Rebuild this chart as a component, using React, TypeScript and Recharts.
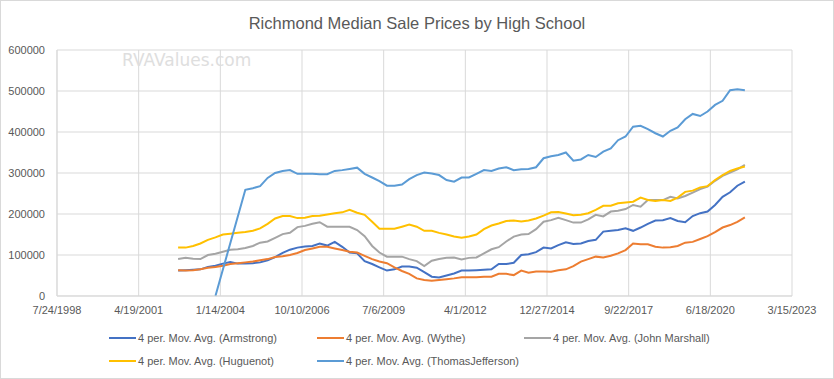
import { CartesianGrid, Line, LineChart, XAxis, YAxis } from "recharts";

// quarterly points (mid-quarter), 4-period moving averages
const quarterDates = [
  "2002-08-15", "2002-11-15",
  "2003-02-15", "2003-05-15", "2003-08-15", "2003-11-15",
  "2004-02-15", "2004-05-15", "2004-08-15", "2004-11-15",
  "2005-02-15", "2005-05-15", "2005-08-15", "2005-11-15",
  "2006-02-15", "2006-05-15", "2006-08-15", "2006-11-15",
  "2007-02-15", "2007-05-15", "2007-08-15", "2007-11-15",
  "2008-02-15", "2008-05-15", "2008-08-15", "2008-11-15",
  "2009-02-15", "2009-05-15", "2009-08-15", "2009-11-15",
  "2010-02-15", "2010-05-15", "2010-08-15", "2010-11-15",
  "2011-02-15", "2011-05-15", "2011-08-15", "2011-11-15",
  "2012-02-15", "2012-05-15", "2012-08-15", "2012-11-15",
  "2013-02-15", "2013-05-15", "2013-08-15", "2013-11-15",
  "2014-02-15", "2014-05-15", "2014-08-15", "2014-11-15",
  "2015-02-15", "2015-05-15", "2015-08-15", "2015-11-15",
  "2016-02-15", "2016-05-15", "2016-08-15", "2016-11-15",
  "2017-02-15", "2017-05-15", "2017-08-15", "2017-11-15",
  "2018-02-15", "2018-05-15", "2018-08-15", "2018-11-15",
  "2019-02-15", "2019-05-15", "2019-08-15", "2019-11-15",
  "2020-02-15", "2020-05-15", "2020-08-15", "2020-11-15",
  "2021-02-15", "2021-05-15", "2021-08-15",
];

const armstrong = [
  62000, 63000, 64000, 65000, 71000, 74000, 79000, 83000, 79000, 79000,
  80000, 82000, 87000, 95000, 105000, 113000, 118000, 121000, 122000, 128000,
  123000, 132000, 120000, 106000, 104000, 85000, 78000, 70000, 62000, 65000,
  72000, 72000, 69000, 58000, 47000, 45000, 50000, 55000, 62000, 62000,
  63000, 64000, 65000, 78000, 78000, 81000, 100000, 102000, 107000, 118000,
  116000, 124000, 131000, 127000, 128000, 134000, 137000, 157000, 159000, 161000,
  165000, 159000, 167000, 176000, 184000, 185000, 190000, 183000, 180000, 195000,
  202000, 206000, 222000, 242000, 253000, 269000, 279000,
];

const wythe = [
  63000, 62000, 63000, 65000, 69000, 71000, 74000, 78000, 80000, 82000,
  84000, 87000, 90000, 95000, 97000, 100000, 105000, 112000, 116000, 120000,
  120000, 116000, 112000, 108000, 106000, 98000, 90000, 84000, 80000, 70000,
  61000, 54000, 43000, 39000, 37000, 39000, 41000, 43000, 46000, 46000,
  46000, 47000, 47000, 54000, 54000, 51000, 62000, 57000, 60000, 60000,
  59000, 63000, 65000, 73000, 84000, 90000, 96000, 94000, 98000, 104000,
  112000, 128000, 126000, 126000, 120000, 118000, 119000, 122000, 130000, 132000,
  139000, 146000, 156000, 167000, 173000, 181000, 192000,
];

const johnMarshall = [
  90000, 93000, 91000, 90000, 100000, 103000, 108000, 113000, 114000, 117000,
  122000, 130000, 133000, 142000, 151000, 154000, 168000, 171000, 176000, 180000,
  169000, 169000, 169000, 169000, 161000, 146000, 122000, 106000, 96000, 96000,
  96000, 90000, 85000, 73000, 86000, 90000, 93000, 94000, 89000, 93000,
  94000, 104000, 114000, 119000, 133000, 145000, 150000, 151000, 163000, 181000,
  185000, 191000, 185000, 179000, 179000, 187000, 198000, 194000, 206000, 208000,
  212000, 222000, 218000, 234000, 234000, 234000, 242000, 238000, 244000, 252000,
  261000, 267000, 281000, 293000, 301000, 309000, 320000,
];

const huguenot = [
  118000, 118000, 122000, 128000, 137000, 143000, 150000, 152000, 154000, 156000,
  159000, 165000, 176000, 189000, 195000, 195000, 190000, 191000, 195000, 196000,
  199000, 202000, 204000, 210000, 203000, 198000, 181000, 164000, 164000, 164000,
  169000, 174000, 169000, 159000, 159000, 154000, 150000, 145000, 142000, 145000,
  150000, 163000, 172000, 177000, 183000, 184000, 182000, 184000, 189000, 196000,
  204000, 205000, 201000, 197000, 198000, 202000, 210000, 220000, 220000, 226000,
  228000, 230000, 240000, 234000, 232000, 234000, 232000, 240000, 254000, 257000,
  265000, 268000, 283000, 295000, 305000, 311000, 316000,
];

const thomasJefferson = [
  null, null, null, null, null, 0, null, null, null, 259000,
  263000, 268000, 288000, 300000, 305000, 307000, 298000, 298000, 298000, 297000,
  297000, 305000, 307000, 310000, 313000, 298000, 289000, 280000, 269000, 269000,
  272000, 285000, 295000, 301000, 299000, 295000, 283000, 279000, 289000, 289000,
  298000, 307000, 305000, 311000, 314000, 307000, 309000, 310000, 314000, 336000,
  341000, 344000, 350000, 330000, 333000, 344000, 339000, 352000, 360000, 380000,
  389000, 413000, 415000, 407000, 397000, 389000, 403000, 411000, 431000, 444000,
  439000, 450000, 466000, 476000, 502000, 504000, 502000,
];

const xTickLabels = [
  "7/24/1998", "4/19/2001", "1/14/2004", "10/10/2006", "7/6/2009",
  "4/1/2012", "12/27/2014", "9/22/2017", "6/18/2020", "3/15/2023",
];
const yTicks = [0, 100000, 200000, 300000, 400000, 500000, 600000];

const series = [
  { key: "armstrong", name: "4 per. Mov. Avg. (Armstrong)", color: "#4472C4", values: armstrong },
  { key: "wythe", name: "4 per. Mov. Avg. (Wythe)", color: "#ED7D31", values: wythe },
  { key: "johnMarshall", name: "4 per. Mov. Avg. (John Marshall)", color: "#A5A5A5", values: johnMarshall },
  { key: "huguenot", name: "4 per. Mov. Avg. (Huguenot)", color: "#FFC000", values: huguenot },
  { key: "thomasJefferson", name: "4 per. Mov. Avg. (ThomasJefferson)", color: "#5B9BD5", values: thomasJefferson },
];

// legend slots (swatch left, row top) like the Excel legend
const legendSlots = [
  { left: 109, top: 332 },
  { left: 317, top: 332 },
  { left: 524, top: 332 },
  { left: 109, top: 355 },
  { left: 317, top: 355 },
];

const FONT = '"Liberation Sans", Arial, sans-serif';
const TEXT = "#595959";
const GRID = "#d9d9d9";

function parseUS(s: string): number {
  const [m, d, y] = s.split("/").map(Number);
  return Date.UTC(y, m - 1, d);
}

function parseISO(s: string): number {
  const [y, m, d] = s.split("-").map(Number);
  return Date.UTC(y, m - 1, d);
}

const xTicks = xTickLabels.map(parseUS);

const rows = quarterDates.map((d, i) => {
  const row: Record<string, number | null> = { t: parseISO(d) };
  series.forEach((s) => {
    row[s.key] = s.values[i];
  });
  return row;
});

function formatTick(v: number): string {
  const idx = xTicks.indexOf(v);
  return idx >= 0 ? xTickLabels[idx] : "";
}

export default function App() {
  return (
    <div style={{ position: "absolute", left: 0, top: 0, width: 834, height: 379, background: "#fff", fontFamily: FONT }}>
      <LineChart
        width={834}
        height={379}
        data={rows}
        margin={{ top: 50, right: 42, left: 0, bottom: 0 }}
      >
        <CartesianGrid stroke={GRID} strokeWidth={1} />
        <XAxis
          type="number"
          dataKey="t"
          domain={[xTicks[0], xTicks[xTicks.length - 1]]}
          ticks={xTicks}
          interval={0}
          tickFormatter={formatTick}
          height={83}
          tickSize={0}
          tickMargin={10}
          tickLine={false}
          axisLine={{ stroke: GRID }}
          tick={{ fill: TEXT, fontSize: 11, fontFamily: FONT }}
        />
        <YAxis
          type="number"
          domain={[0, 600000]}
          ticks={yTicks}
          interval={0}
          width={57}
          tickSize={0}
          tickMargin={12}
          tickLine={false}
          axisLine={{ stroke: GRID }}
          tick={{ fill: TEXT, fontSize: 11, fontFamily: FONT }}
        />
        {series.map((s) => (
          <Line
            key={s.key}
            type="linear"
            dataKey={s.key}
            name={s.name}
            stroke={s.color}
            strokeWidth={2}
            dot={false}
            activeDot={false}
            connectNulls
            isAnimationActive={false}
          />
        ))}
      </LineChart>

      <div
        style={{
          position: "absolute",
          left: 0,
          top: 15,
          width: 834,
          textAlign: "center",
          fontSize: 16.5,
          lineHeight: 1,
          color: TEXT,
        }}
      >
        Richmond Median Sale Prices by High School
      </div>

      <div
        style={{
          position: "absolute",
          left: 122,
          top: 52,
          fontFamily: '"DejaVu Sans", sans-serif',
          fontSize: 17,
          lineHeight: 1,
          color: "#dedede",
        }}
      >
        RVAValues.com
      </div>

      {series.map((s, i) => (
        <div
          key={s.key}
          style={{
            position: "absolute",
            left: legendSlots[i].left,
            top: legendSlots[i].top,
            height: 12,
            display: "flex",
            alignItems: "center",
            fontSize: 11,
            lineHeight: 1,
            color: TEXT,
            whiteSpace: "nowrap",
          }}
        >
          <span style={{ display: "inline-block", width: 27, height: 2.5, background: s.color, marginRight: 2 }} />
          {s.name}
        </div>
      ))}

      <div
        style={{
          position: "absolute",
          left: 0,
          top: 0,
          width: 834,
          height: 379,
          boxSizing: "border-box",
          border: `1px solid ${GRID}`,
          pointerEvents: "none",
        }}
      />
    </div>
  );
}
